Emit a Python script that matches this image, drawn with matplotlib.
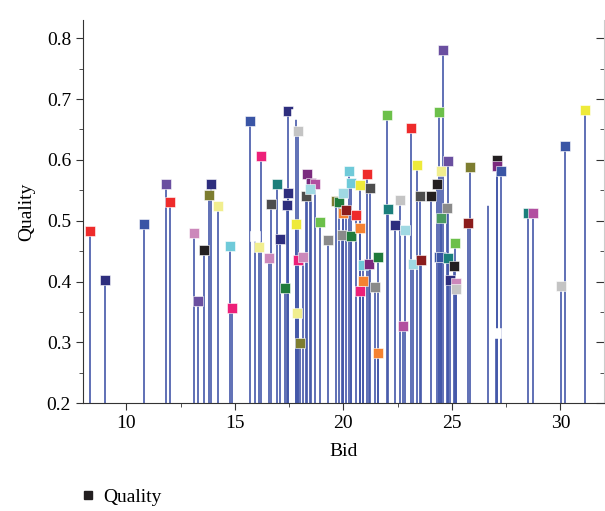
import matplotlib.pyplot as plt
from matplotlib.lines import Line2D
from matplotlib.ticker import MultipleLocator

plt.rcParams['font.family'] = ['Liberation Serif', 'DejaVu Serif']

pal = {
    'red': '#ee2b2b', 'navy': '#2e2e7e', 'blue': '#3a55a5', 'purple': '#6a4fa0',
    'lilac': '#cc88bb', 'black': '#231f20', 'olive': '#7d7d30', 'lightyellow': '#f1ee8e',
    'lightcyan': '#6fcad9', 'pink': '#ed2079', 'teal': '#1b7f7b', 'darkgray': '#4d4d4d',
    'darkgreen': '#207b3b', 'lightgray': '#c4c4c4', 'darkpurple': '#7b2a7e',
    'magenta': '#b24fa0', 'green': '#6cc04a', 'gray': '#8a8a8a', 'orange': '#f58231',
    'darkred': '#8b1c1c', 'yellow': '#eeea3a', 'lightblue': '#a0d9e3', 'midgreen': '#4a9a60',
    'white': '#ffffff',
}

bid = [8.35, 9.04, 10.82, 11.82, 12.00, 13.10, 13.29, 13.60, 13.90, 13.82,
       14.24, 14.79, 14.85, 15.68, 15.92, 16.20, 16.10, 16.57, 16.67, 16.95,
       17.10, 17.33, 17.45, 17.45, 17.39, 17.82, 17.92, 17.82, 17.93, 17.85,
       17.99, 18.16, 18.28, 18.33, 18.53, 18.68, 18.48, 18.94, 19.31, 19.66,
       19.79, 19.94, 19.97, 20.00, 20.14, 20.25, 20.35, 20.37, 20.57, 20.75,
       20.75, 20.78, 20.89, 20.92, 21.07, 21.18, 21.24, 21.45, 21.59, 21.58,
       21.99, 22.08, 22.39, 22.62, 22.84, 22.76, 23.14, 23.22, 23.39, 23.52,
       23.60, 24.05, 24.31, 24.40, 24.48, 24.60, 24.52, 24.41, 24.52, 24.80,
       24.77, 24.84, 25.13, 25.09, 24.92, 25.20, 25.18, 25.85, 25.73, 26.65,
       27.10, 27.08, 27.28, 27.05, 28.52, 28.75, 30.02, 30.20, 31.14]

quality = [0.483, 0.402, 0.494, 0.560, 0.531, 0.479, 0.368, 0.452, 0.560, 0.542,
           0.524, 0.459, 0.357, 0.664, 0.475, 0.606, 0.457, 0.439, 0.528, 0.561,
           0.470, 0.389, 0.681, 0.545, 0.526, 0.675, 0.648, 0.495, 0.436, 0.349,
           0.299, 0.441, 0.540, 0.577, 0.562, 0.560, 0.552, 0.498, 0.468, 0.532,
           0.530, 0.476, 0.545, 0.512, 0.518, 0.581, 0.562, 0.475, 0.510, 0.488,
           0.384, 0.558, 0.427, 0.401, 0.576, 0.429, 0.554, 0.391, 0.441, 0.283,
           0.674, 0.519, 0.493, 0.534, 0.484, 0.327, 0.652, 0.429, 0.591, 0.541,
           0.435, 0.540, 0.561, 0.679, 0.582, 0.780, 0.505, 0.440, 0.440, 0.598,
           0.521, 0.438, 0.464, 0.425, 0.402, 0.398, 0.387, 0.588, 0.496, 0.534,
           0.599, 0.590, 0.582, 0.315, 0.512, 0.512, 0.392, 0.623, 0.682]

marker_colors = ['red', 'navy', 'blue', 'purple', 'red', 'lilac', 'purple', 'black', 'navy', 'olive',
                 'lightyellow', 'lightcyan', 'pink', 'blue', 'white', 'pink', 'lightyellow', 'lilac', 'darkgray', 'teal',
                 'navy', 'darkgreen', 'navy', 'navy', 'navy', 'white', 'lightgray', 'yellow', 'pink', 'lightyellow',
                 'olive', 'lilac', 'darkgray', 'darkpurple', 'darkpurple', 'magenta', 'lightblue', 'green', 'gray', 'olive',
                 'darkgreen', 'gray', 'lightblue', 'orange', 'darkred', 'lightcyan', 'lightcyan', 'darkgreen', 'red', 'orange',
                 'pink', 'yellow', 'lightcyan', 'orange', 'red', 'darkpurple', 'darkgray', 'gray', 'darkgreen', 'orange',
                 'green', 'teal', 'navy', 'lightgray', 'lightblue', 'magenta', 'red', 'lightblue', 'yellow', 'darkgray',
                 'darkred', 'black', 'black', 'green', 'lightyellow', 'purple', 'midgreen', 'blue', 'blue', 'purple',
                 'gray', 'teal', 'green', 'black', 'navy', 'lilac', 'lightgray', 'olive', 'darkred', 'white',
                 'black', 'darkpurple', 'blue', 'white', 'teal', 'magenta', 'lightgray', 'blue', 'yellow']

fig = plt.figure(figsize=(6.05, 5.11), dpi=100)
ax = fig.add_axes([0.137, 0.211, 0.861, 0.750])

ax.vlines(bid, 0.2, quality, colors='#4458a9', linewidth=1.2, zorder=2)
for b, q, c in zip(bid, quality, marker_colors):
    ax.plot(b, q, 's', color=pal[c], markersize=6.5, markeredgecolor='white',
            markeredgewidth=0.4, zorder=3)

ax.set_xlim(8, 32)
ax.set_ylim(0.2, 0.83)
ax.xaxis.set_major_locator(MultipleLocator(5))
ax.xaxis.set_minor_locator(MultipleLocator(2.5))
ax.yaxis.set_major_locator(MultipleLocator(0.1))
ax.yaxis.set_minor_locator(MultipleLocator(0.05))

ax.spines['top'].set_visible(False)
ax.spines['right'].set_visible(False)
ax.spines['left'].set_color('#333333')
ax.spines['bottom'].set_color('#333333')
ax.tick_params(axis='x', which='major', direction='out', length=5, labelsize=14, color='#333333')
ax.tick_params(axis='x', which='minor', direction='out', length=3, color='#333333')
ax.tick_params(axis='y', which='major', direction='out', length=5, labelsize=14, color='#333333')
ax.tick_params(axis='y', which='minor', direction='out', length=3, color='#333333')

# right side: faint spine with inward ticks, no labels
sec = ax.secondary_yaxis('right')
sec.spines['right'].set_color('#cccccc')
sec.yaxis.set_major_locator(MultipleLocator(0.1))
sec.yaxis.set_minor_locator(MultipleLocator(0.05))
sec.tick_params(which='major', direction='in', length=6, color='#333333', labelright=False)
sec.tick_params(which='minor', direction='in', length=3, color='#333333')

ax.set_xlabel('Bid', fontsize=14, labelpad=8)
ax.set_ylabel('Quality', fontsize=14, labelpad=8)

handle = Line2D([], [], marker='s', linestyle='none', color='#231f20', markersize=6)
fig.legend([handle], ['Quality'], loc='center left', bbox_to_anchor=(0.1, 0.027),
           frameon=False, fontsize=14, handletextpad=0.3, handlelength=1.0)

fig.savefig('out.png', dpi=100)
